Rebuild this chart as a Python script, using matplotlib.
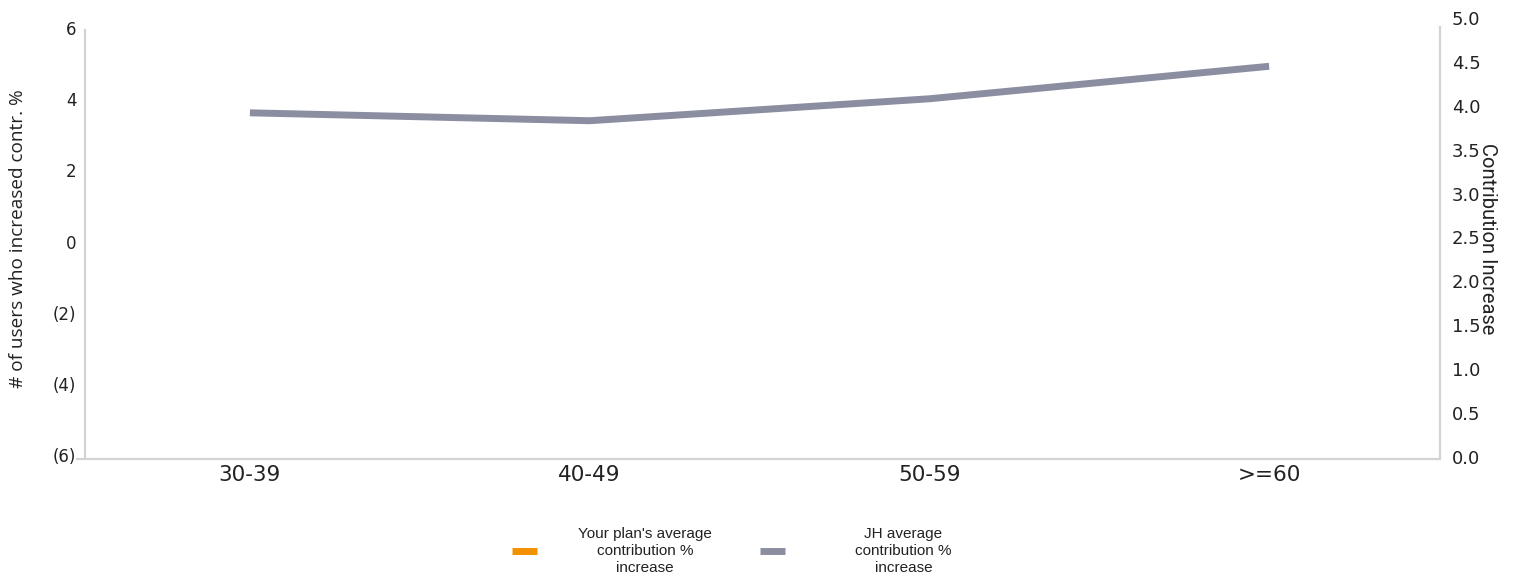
import matplotlib
matplotlib.use("Agg")
import matplotlib.pyplot as plt
from matplotlib.lines import Line2D
from matplotlib.ticker import FuncFormatter

# age groups along the x axis
age_groups = ["30-39", "40-49", "50-59", ">=60"]
# JH average contribution % increase (right axis)
jh_avg = [3.92, 3.83, 4.08, 4.45]

left_ticks = [-6, -4, -2, 0, 2, 4, 6]
right_ticks = [0.0, 0.5, 1.0, 1.5, 2.0, 2.5, 3.0, 3.5, 4.0, 4.5, 5.0]

orange = "#F39200"
grey_line = "#8B8DA1"
spine_col = "#D3D3D3"
txt_col = "#222222"

fig = plt.figure(figsize=(15.16, 5.84), dpi=100)
ax = fig.add_axes([77 / 1516, 1 - 459 / 584, (1440 - 77) / 1516, (459 - 18) / 584])
ax2 = ax.twinx()

# left axis: users count, parentheses for negatives
ax.set_ylim(-6.112, 6.281)
ax.set_yticks(left_ticks)
ax.yaxis.set_major_formatter(FuncFormatter(lambda v, p: "(%d)" % abs(v) if v < 0 else "%d" % v))
ax.set_xlim(-0.509, 3.503)
ax.set_xticks(range(len(age_groups)))
ax.set_xticklabels(age_groups)

ax2.set_ylim(-0.023, 5.0)
ax2.set_yticks(right_ticks)
ax2.yaxis.set_major_formatter(FuncFormatter(lambda v, p: "%.1f" % v))

ax2.plot(range(len(jh_avg)), jh_avg, color=grey_line, lw=5, solid_capstyle="butt", solid_joinstyle="round")

for a in (ax, ax2):
    for s in a.spines.values():
        s.set_visible(False)
    a.tick_params(length=0)
for side in ("left", "bottom"):
    ax.spines[side].set_visible(True)
    ax.spines[side].set_color(spine_col)
    ax.spines[side].set_linewidth(1.6)
ax.spines["left"].set_position(("data", -0.486))
ax.spines["left"].set_bounds(-6.112, 5.94)
ax2.spines["right"].set_visible(True)
ax2.spines["right"].set_color(spine_col)
ax2.spines["right"].set_linewidth(1.6)
ax2.spines["right"].set_bounds(0, 4.9)

ax.tick_params(axis="y", pad=6, labelsize=12, labelcolor=txt_col)
ax.tick_params(axis="x", pad=4, labelsize=15.5, labelcolor=txt_col)
ax2.tick_params(axis="y", pad=8.6, labelsize=13, labelcolor=txt_col)

ax.set_ylabel("# of users who increased contr. %", fontsize=13.7, family="Open Sans", color=txt_col)
ax.yaxis.set_label_coords(18 / 1516, 1 - 239 / 584, transform=fig.transFigure)
ax.yaxis.label.set_va("center")
ax2.set_ylabel("Contribution Increase", fontsize=14.5, family="Roboto", rotation=270, color=txt_col)
ax2.yaxis.set_label_coords(1488 / 1516, 1 - 239 / 584, transform=fig.transFigure)
ax2.yaxis.label.set_va("center")

# two legend entries, placed separately like the original
entries = [(orange, "Your plan's average\ncontribution %\nincrease", 512, 2.7),
           (grey_line, "JH average\ncontribution %\nincrease", 760, 4.6)]
for col, lab, xpix, tpad in entries:
    leg = fig.legend([Line2D([], [], color=col, lw=5, solid_capstyle="butt")], [lab],
                     loc="center left", bbox_to_anchor=(xpix / 1516, 1 - 551 / 584),
                     frameon=False, borderpad=0, borderaxespad=0,
                     handlelength=1.63, handletextpad=tpad,
                     prop={"family": "Liberation Sans", "size": 11})
    for t in leg.get_texts():
        t.set_multialignment("center")
        t.set_color(txt_col)
        t.set_linespacing(1.25)

fig.savefig("out.png", dpi=100)
